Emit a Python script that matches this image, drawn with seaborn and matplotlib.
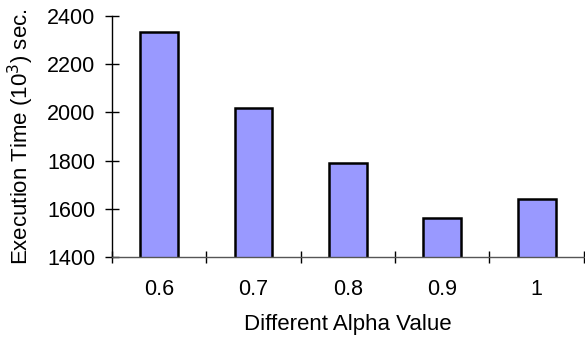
import matplotlib
matplotlib.use("Agg")
import matplotlib.pyplot as plt
import numpy as np
import pandas as pd
import seaborn as sns

alpha_values = ["0.6", "0.7", "0.8", "0.9", "1"]
exec_time = [2335, 2020, 1790, 1563, 1641]
y_ticks = [1400, 1600, 1800, 2000, 2200, 2400]

sns.set_style("white")
plt.rcParams["font.family"] = ["Liberation Sans", "DejaVu Sans"]
plt.rcParams["text.color"] = "black"
plt.rcParams["axes.labelcolor"] = "black"
plt.rcParams["xtick.color"] = "black"
plt.rcParams["ytick.color"] = "black"

df = pd.DataFrame({"alpha": alpha_values, "time": exec_time})

fig = plt.figure(figsize=(5.85, 3.41), dpi=100)
ax = fig.add_axes([0.1915, 0.2463, 0.8065, 0.7067])

sns.barplot(data=df, x="alpha", y="time", color="#9999ff", saturation=1,
            width=0.4, edgecolor="black", linewidth=1.8, ax=ax)

ax.set_ylim(1400, 2400)
ax.set_xlim(-0.5, len(alpha_values) - 0.5)
ax.set_yticks(y_ticks)
# tick marks sit between the categories, crossing the axis
ax.set_xticks(np.arange(-0.5, len(alpha_values), 1.0), minor=True)
ax.tick_params(axis="x", which="major", bottom=True, length=0, pad=16, labelsize=15.5)
ax.tick_params(axis="x", which="minor", bottom=True, direction="inout", length=9, width=1)
ax.tick_params(axis="y", left=True, direction="inout", length=10, width=1, labelsize=15.5, pad=7)

for s in ["top", "right"]:
    ax.spines[s].set_visible(False)
ax.spines["left"].set_color("black")
ax.spines["bottom"].set_color("#555555")
ax.spines["left"].set_linewidth(1)
ax.spines["bottom"].set_linewidth(1)

ax.set_xlabel("Different Alpha Value", fontsize=16, labelpad=10)
ax.set_ylabel("Execution Time (10$^3$) sec.", fontsize=16, labelpad=8)

fig.savefig("out.png", dpi=100)
